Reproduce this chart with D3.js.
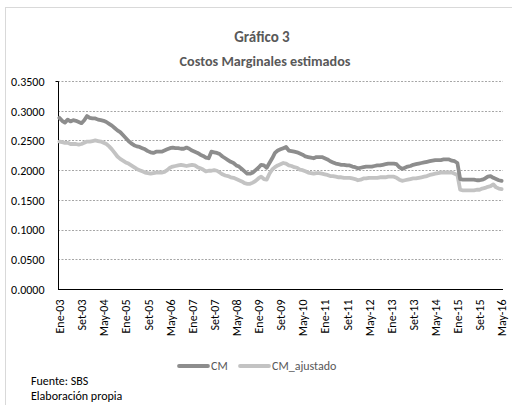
<!DOCTYPE html>
<html>
<head>
<meta charset="utf-8">
<script src="https://cdn.jsdelivr.net/npm/d3@7"></script>
<style>
  body { margin: 0; background: #fff; }
  text { font-family: Carlito, "Liberation Sans Narrow", "Liberation Sans", sans-serif; }
</style>
</head>
<body>
<div id="chart"></div>
<script>
const yTicks = [0, 0.05, 0.10, 0.15, 0.20, 0.25, 0.30, 0.35];
const monthNames = ['Ene', 'Feb', 'Mar', 'Abr', 'May', 'Jun', 'Jul', 'Ago', 'Set', 'Oct', 'Nov', 'Dic'];

// Ene-03 .. May-16, monthly
const cm = [
  0.288, 0.283, 0.280, 0.285, 0.282, 0.284, 0.283, 0.281, 0.279, 0.284,
  0.291, 0.288, 0.287, 0.287, 0.285, 0.284, 0.283, 0.281, 0.278, 0.275,
  0.271, 0.267, 0.264, 0.259, 0.254, 0.249, 0.245, 0.242, 0.240, 0.239,
  0.237, 0.235, 0.232, 0.230, 0.229, 0.231, 0.231, 0.231, 0.233, 0.235,
  0.237, 0.238, 0.237, 0.237, 0.236, 0.236, 0.238, 0.236, 0.233, 0.231,
  0.229, 0.226, 0.224, 0.221, 0.220, 0.231, 0.230, 0.229, 0.227, 0.223,
  0.220, 0.217, 0.214, 0.212, 0.208, 0.206, 0.202, 0.198, 0.194, 0.194,
  0.196, 0.200, 0.204, 0.209, 0.208, 0.204, 0.212, 0.220, 0.229, 0.233,
  0.235, 0.237, 0.239, 0.233, 0.232, 0.231, 0.230, 0.228, 0.226, 0.223,
  0.222, 0.221, 0.220, 0.222, 0.222, 0.222, 0.220, 0.218, 0.215, 0.213,
  0.211, 0.210, 0.209, 0.209, 0.208, 0.208, 0.206, 0.205, 0.203, 0.204,
  0.205, 0.206, 0.206, 0.206, 0.207, 0.208, 0.208, 0.209, 0.210, 0.211,
  0.211, 0.211, 0.210, 0.205, 0.202, 0.204, 0.206, 0.207, 0.209, 0.210,
  0.211, 0.212, 0.213, 0.214, 0.215, 0.216, 0.217, 0.217, 0.217, 0.218,
  0.218, 0.218, 0.216, 0.215, 0.212, 0.185, 0.184, 0.184, 0.184, 0.184,
  0.184, 0.183, 0.183, 0.184, 0.186, 0.189, 0.190, 0.187, 0.185, 0.183,
  0.182
];

const cmAjustado = [
  0.248, 0.247, 0.246, 0.246, 0.244, 0.244, 0.244, 0.243, 0.244, 0.246,
  0.248, 0.248, 0.249, 0.250, 0.249, 0.248, 0.246, 0.244, 0.240, 0.235,
  0.229, 0.223, 0.219, 0.216, 0.213, 0.211, 0.208, 0.205, 0.202, 0.200,
  0.198, 0.196, 0.195, 0.194, 0.195, 0.196, 0.196, 0.196, 0.197, 0.200,
  0.204, 0.206, 0.207, 0.208, 0.209, 0.208, 0.207, 0.208, 0.209, 0.208,
  0.205, 0.203, 0.201, 0.198, 0.199, 0.199, 0.200, 0.199, 0.196, 0.193,
  0.191, 0.190, 0.188, 0.187, 0.185, 0.183, 0.181, 0.178, 0.177, 0.177,
  0.179, 0.182, 0.186, 0.189, 0.185, 0.184, 0.194, 0.201, 0.205, 0.208,
  0.210, 0.212, 0.211, 0.208, 0.207, 0.205, 0.204, 0.201, 0.200, 0.198,
  0.196, 0.195, 0.194, 0.195, 0.195, 0.194, 0.193, 0.192, 0.190, 0.190,
  0.189, 0.188, 0.188, 0.187, 0.187, 0.187, 0.186, 0.185, 0.183, 0.184,
  0.186, 0.186, 0.187, 0.187, 0.187, 0.187, 0.188, 0.188, 0.188, 0.189,
  0.189, 0.189, 0.187, 0.184, 0.182, 0.183, 0.184, 0.185, 0.186, 0.186,
  0.187, 0.188, 0.189, 0.190, 0.192, 0.193, 0.194, 0.195, 0.196, 0.196,
  0.196, 0.196, 0.196, 0.194, 0.192, 0.167, 0.166, 0.166, 0.166, 0.166,
  0.166, 0.167, 0.167, 0.169, 0.170, 0.172, 0.173, 0.176, 0.171, 0.169,
  0.168
];

const months = cm.map((d, i) => {
  const m = i % 12, y = 3 + Math.floor(i / 12);
  return monthNames[m] + '-' + String(y).padStart(2, '0');
});
const tickMonths = months.filter((d, i) => i % 8 === 0);

const width = 512, height = 405;
const plot = { left: 58, right: 503, top: 81, bottom: 289 };
const font = 'Carlito, "Liberation Sans Narrow", "Liberation Sans", sans-serif';

const svg = d3.select('#chart')
  .append('svg')
  .attr('width', width)
  .attr('height', height);

svg.append('rect')
  .attr('x', 5.5).attr('y', 7.5)
  .attr('width', 520).attr('height', 420)
  .attr('fill', '#fff')
  .attr('stroke', '#d9d9d9');

const xScale = d3.scalePoint()
  .domain(months)
  .range([plot.left, plot.right])
  .padding(0.5);

const yScale = d3.scaleLinear()
  .domain([0, 0.35])
  .range([plot.bottom, plot.top]);

// gridlines
svg.append('g')
  .selectAll('line')
  .data(yTicks.slice(1))
  .enter().append('line')
  .attr('x1', plot.left).attr('x2', plot.right)
  .attr('y1', d => Math.round(yScale(d)) + 0.5)
  .attr('y2', d => Math.round(yScale(d)) + 0.5)
  .attr('stroke', '#a6a6a6')
  .attr('stroke-dasharray', '2,1.5');

// y axis
const yAxis = d3.axisLeft(yScale)
  .tickValues(yTicks)
  .tickFormat(d3.format('.4f'))
  .tickSize(0)
  .tickPadding(14);

svg.append('g')
  .attr('transform', `translate(${plot.left + 0.5}, 0.5)`)
  .call(yAxis)
  .call(g => g.select('.domain').attr('stroke', '#000').attr('d', `M-3,${plot.top}H0V${plot.bottom}`))
  .call(g => g.selectAll('text')
    .attr('font-size', 12)
    .attr('fill', '#000')
    .attr('font-family', font));

// x axis
const xAxis = d3.axisBottom(xScale)
  .tickValues(tickMonths)
  .tickSize(0)
  .tickPadding(0);

svg.append('g')
  .attr('transform', `translate(0, ${plot.bottom + 0.5})`)
  .call(xAxis)
  .call(g => g.select('.domain').attr('stroke', '#000').attr('d', `M${plot.left},0H${plot.right}`))
  .call(g => g.selectAll('text')
    .attr('font-size', 12)
    .attr('fill', '#000')
    .attr('font-family', font)
    .attr('transform', 'rotate(-90)')
    .attr('text-anchor', 'end')
    .attr('dy', '0.35em')
    .attr('x', -10)
    .attr('y', 0));

const line = d3.line()
  .x((d, i) => xScale(months[i]))
  .y(d => yScale(d));

svg.append('path')
  .datum(cmAjustado)
  .attr('d', line)
  .attr('fill', 'none')
  .attr('stroke', '#c3c3c3')
  .attr('stroke-width', 3.8)
  .attr('stroke-linejoin', 'round')
  .attr('stroke-linecap', 'round');

svg.append('path')
  .datum(cm)
  .attr('d', line)
  .attr('fill', 'none')
  .attr('stroke', '#8d8d8d')
  .attr('stroke-width', 3.8)
  .attr('stroke-linejoin', 'round')
  .attr('stroke-linecap', 'round');

// title
svg.append('text')
  .attr('x', 262).attr('y', 42)
  .attr('text-anchor', 'middle')
  .attr('font-size', 15).attr('font-weight', 'bold')
  .attr('fill', '#595959')
  .text('Gráfico 3');

svg.append('text')
  .attr('x', 265).attr('y', 66)
  .attr('text-anchor', 'middle')
  .attr('font-size', 14.2).attr('font-weight', 'bold')
  .attr('fill', '#595959')
  .text('Costos Marginales estimados');

// legend
const legend = svg.append('g').attr('transform', 'translate(0, 366)');
const legendItems = [
  { name: 'CM', color: '#8d8d8d', x: 179 },
  { name: 'CM_ajustado', color: '#c3c3c3', x: 240 }
];
legendItems.forEach(item => {
  legend.append('line')
    .attr('x1', item.x).attr('x2', item.x + 29)
    .attr('stroke', item.color)
    .attr('stroke-width', 3.8)
    .attr('stroke-linecap', 'round');
  legend.append('text')
    .attr('x', item.x + 32).attr('y', 4)
    .attr('font-size', 12)
    .attr('fill', '#595959')
    .text(item.name);
});

// notes
svg.append('text')
  .attr('x', 31).attr('y', 385)
  .attr('font-size', 12).attr('fill', '#000')
  .text('Fuente:  SBS');

svg.append('text')
  .attr('x', 31).attr('y', 400)
  .attr('font-size', 12).attr('fill', '#000')
  .text('Elaboración propia');
</script>
</body>
</html>
